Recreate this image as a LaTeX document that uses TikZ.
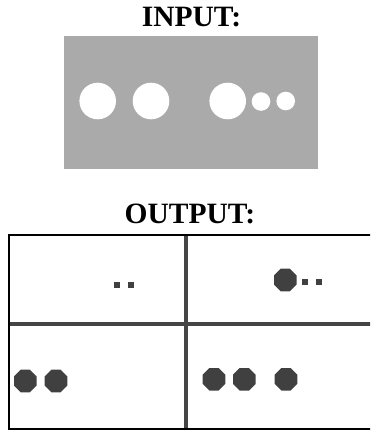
\documentclass[tikz,border=0pt]{standalone}
\usepackage{fontspec}
\setmainfont{Liberation Serif}
\definecolor{bggray}{HTML}{AAAAAA}
\definecolor{dotgray}{HTML}{404040}
\definecolor{linegray}{HTML}{454545}
\begin{document}
\begin{tikzpicture}[x=1pt,y=-1pt,
  title/.style={font=\fontsize{29.5}{32}\selectfont\bfseries, inner sep=0pt, anchor=base},
  blob/.style={fill=dotgray, draw=none},
  divider/.style={draw=linegray, line width=4pt},
  frame/.style={draw=black, line width=2pt}]
\useasboundingbox (0,0) rectangle (370,431);
\clip (0,0) rectangle (370,431);
% titles
\node[title] (tin) at (191.5,26) {INPUT:};
\node[title] (tout) at (190,223) {OUTPUT:};
% input image
\fill[bggray] (64,36) rectangle (318,169);
\fill[white] (97.7,101) circle (18.3);
\fill[white] (151,101) circle (18.3);
\fill[white] (227.7,101) circle (18.3);
\fill[white] (261,101.5) circle (9.3);
\fill[white] (285.7,101) circle (9.3);
% output frame
\draw[divider] (9,323.8) -- (372,323.8);
\draw[divider] (185.8,235) -- (185.8,428);
\draw[frame] (9,235) rectangle (373,428.5);
% small squares
\foreach \cx/\cy in {116.7/285, 131/285, 305.3/281.5, 319.3/281.5}
  \fill[dotgray] (\cx-3,\cy-3) rectangle (\cx+3,\cy+3);
% octagons
\foreach \cx/\cy in {285.3/280, 25.3/381, 56/381, 214/379.3, 244.3/379.3, 286/379.3}
  \fill[blob] (\cx,\cy) +(22.5:12.2) -- +(67.5:12.2) -- +(112.5:12.2) -- +(157.5:12.2) -- +(202.5:12.2) -- +(247.5:12.2) -- +(292.5:12.2) -- +(337.5:12.2) -- cycle;
\end{tikzpicture}
\end{document}
